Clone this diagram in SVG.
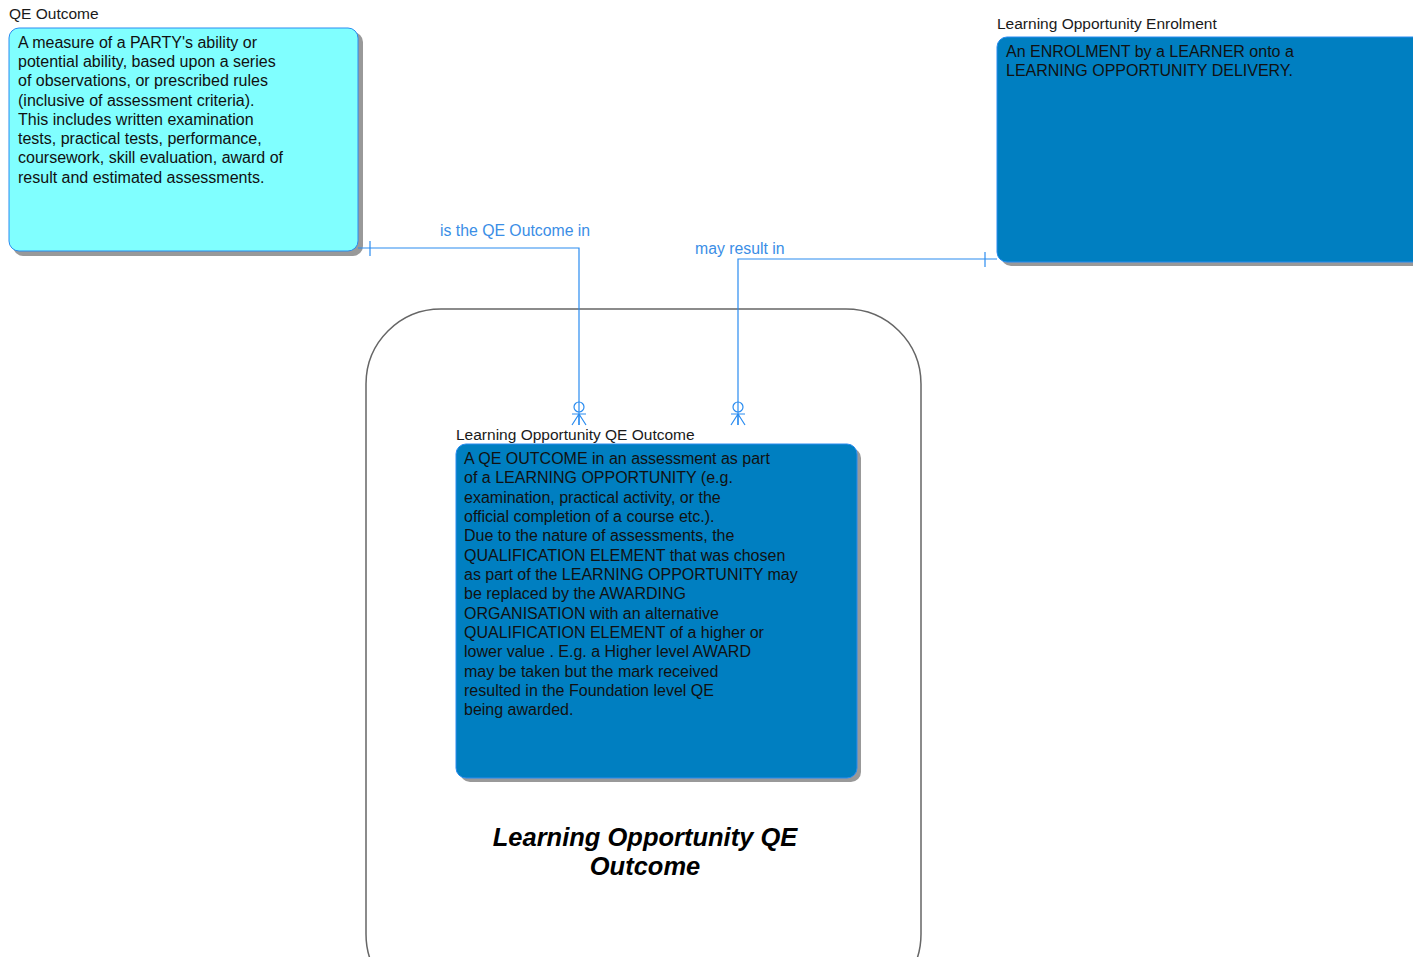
<svg xmlns="http://www.w3.org/2000/svg" width="1413" height="957" viewBox="0 0 1413 957">
<defs>
<style>
.title{font-family:"Liberation Sans",Arial,sans-serif;font-size:15.5px;fill:#1a1a1a}
.body{font-family:"Liberation Sans",Arial,sans-serif;font-size:16px;fill:#111}
.rel{font-family:"Liberation Sans",Arial,sans-serif;font-size:15.8px;fill:#3a8ee6}
.conn{fill:none;stroke:#2a8cf0;stroke-width:1.2}
.shadow{fill:#999}
.big{font-family:"Liberation Sans",Arial,sans-serif;font-size:25.5px;font-weight:bold;font-style:italic;fill:#000;text-anchor:middle}
</style>
</defs>
<rect width="1413" height="957" fill="#fff"/>
<g id="container">
<rect x="366" y="309" width="555" height="700" rx="75" ry="75" fill="none" stroke="#666" stroke-width="1.5"/>
<text class="big" x="645" y="846">Learning Opportunity QE</text>
<text class="big" x="645" y="875">Outcome</text>
</g>
<g id="qe-outcome">
<text class="title" x="9" y="19">QE Outcome</text>
<rect class="shadow" x="13" y="32" width="350" height="224" rx="10"/>
<rect x="9" y="28" width="349" height="223" rx="10" fill="#80ffff" stroke="#2a8cf0" stroke-width="1"/>
<text class="body" x="18" y="48">A measure of a PARTY's ability or</text>
<text class="body" x="18" y="67">potential ability, based upon a series</text>
<text class="body" x="18" y="86">of observations, or prescribed rules</text>
<text class="body" x="18" y="106">(inclusive of assessment criteria).</text>
<text class="body" x="18" y="125">This includes written examination</text>
<text class="body" x="18" y="144">tests, practical tests, performance,</text>
<text class="body" x="18" y="163">coursework, skill evaluation, award of</text>
<text class="body" x="18" y="183">result and estimated assessments.</text>
</g>
<g id="lo-enrolment">
<text class="title" x="997" y="29">Learning Opportunity Enrolment</text>
<rect class="shadow" x="1001" y="41" width="430" height="225" rx="10"/>
<rect x="997" y="37" width="430" height="225" rx="10" fill="#007fc1" stroke="#2a8cf0" stroke-width="1"/>
<text class="body" x="1006" y="57">An ENROLMENT by a LEARNER onto a</text>
<text class="body" x="1006" y="76">LEARNING OPPORTUNITY DELIVERY.</text>
</g>
<g id="lo-qe-outcome">
<text class="title" x="456" y="440">Learning Opportunity QE Outcome</text>
<rect class="shadow" x="460" y="448" width="401" height="334" rx="10"/>
<rect x="456" y="444" width="401" height="334" rx="10" fill="#007fc1" stroke="#2a8cf0" stroke-width="1"/>
<text class="body" x="464" y="464">A QE OUTCOME  in an assessment as part</text>
<text class="body" x="464" y="483">of a LEARNING OPPORTUNITY (e.g.</text>
<text class="body" x="464" y="503">examination, practical activity, or the</text>
<text class="body" x="464" y="522">official completion of a course etc.).</text>
<text class="body" x="464" y="541">Due to the nature of assessments, the</text>
<text class="body" x="464" y="561">QUALIFICATION ELEMENT that was chosen</text>
<text class="body" x="464" y="580">as part of the LEARNING OPPORTUNITY may</text>
<text class="body" x="464" y="599">be replaced by the AWARDING</text>
<text class="body" x="464" y="619">ORGANISATION with an alternative</text>
<text class="body" x="464" y="638">QUALIFICATION ELEMENT of a higher or</text>
<text class="body" x="464" y="657">lower value . E.g. a Higher level AWARD</text>
<text class="body" x="464" y="677">may be taken but the mark received</text>
<text class="body" x="464" y="696">resulted in the Foundation level QE</text>
<text class="body" x="464" y="715">being awarded.</text>
</g>
<g id="connectors">
<path class="conn" d="M358,248 H579 V425"/>
<path class="conn" d="M370,241 V256"/>
<circle class="conn" cx="579" cy="407" r="5"/>
<path class="conn" d="M572,414 H586 M579,414 L572,425 M579,414 V425 M579,414 L586,425"/>
<text class="rel" x="440" y="236">is the QE Outcome in</text>
<path class="conn" d="M997,259 H738 V425"/>
<path class="conn" d="M985,252 V267"/>
<circle class="conn" cx="738" cy="407" r="5"/>
<path class="conn" d="M731,414 H745 M738,414 L731,425 M738,414 V425 M738,414 L745,425"/>
<text class="rel" x="695" y="254">may result in</text>
</g>
</svg>
